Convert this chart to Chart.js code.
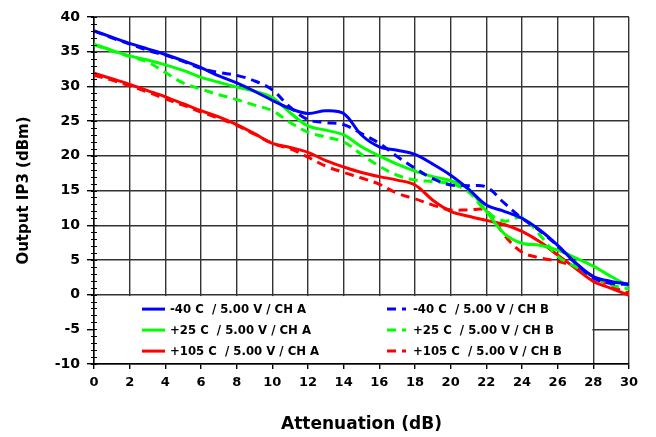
<!DOCTYPE html>
<html>
<head>
<meta charset="utf-8">
<script src="https://cdn.jsdelivr.net/npm/chart.js@4.4.1/dist/chart.umd.min.js"></script>
<style>
  html, body { margin: 0; padding: 0; background: #fff; }
  #chart_canvas { display: block; }
</style>
</head>
<body>
<canvas id="chart_canvas" width="656" height="437"></canvas>
<script>
// attenuation steps (dB) and output IP3 (dBm)
const atten = [0, 1, 2, 3, 4, 5, 6, 7, 8, 9, 10, 11, 12, 13, 14, 15, 16, 17, 18, 19, 20, 21, 22, 23, 24, 25, 26, 27, 28, 29, 30];

const m40_chA = [38.0, 37.1, 36.2, 35.4, 34.6, 33.7, 32.7, 31.5, 30.5, 29.3, 28.0, 26.8, 26.1, 26.5, 26.1, 23.0, 21.3, 20.8, 20.2, 18.8, 17.2, 15.2, 12.9, 12.0, 11.0, 9.3, 7.1, 4.6, 2.6, 1.9, 1.5];
const m40_chB = [38.0, 37.0, 36.1, 35.2, 34.5, 33.6, 32.6, 32.0, 31.6, 30.8, 29.5, 27.0, 25.2, 24.8, 24.5, 23.2, 21.8, 19.9, 18.2, 16.7, 15.8, 15.7, 15.5, 13.2, 11.0, 9.2, 7.0, 4.5, 2.4, 1.6, 1.5];
const p25_chA = [36.1, 35.2, 34.4, 33.8, 33.1, 32.3, 31.3, 30.6, 29.9, 29.3, 28.4, 26.2, 24.3, 23.7, 23.0, 21.3, 20.0, 18.8, 17.8, 17.0, 16.4, 15.2, 12.0, 8.8, 7.4, 7.1, 6.4, 5.3, 4.1, 2.6, 1.2];
const p25_chB = [36.0, 35.1, 34.3, 33.5, 32.0, 30.5, 29.6, 28.8, 28.1, 27.3, 26.5, 24.8, 23.4, 22.7, 22.0, 20.2, 18.5, 17.2, 16.5, 16.3, 16.0, 14.8, 12.0, 10.6, 11.1, 8.6, 5.5, 4.0, 2.6, 1.4, 0.8];
const p105_chA = [31.9, 31.1, 30.3, 29.4, 28.5, 27.5, 26.5, 25.6, 24.5, 23.2, 21.8, 21.2, 20.5, 19.3, 18.4, 17.6, 17.0, 16.5, 15.8, 13.6, 12.0, 11.3, 10.7, 10.1, 9.1, 7.6, 5.7, 3.8, 1.9, 0.9, -0.1];
const p105_chB = [31.6, 30.9, 30.1, 29.2, 28.2, 27.3, 26.3, 25.4, 24.4, 23.1, 21.8, 21.0, 19.8, 18.5, 17.6, 16.8, 15.9, 14.6, 13.8, 12.9, 12.2, 12.2, 12.1, 8.6, 6.1, 5.3, 4.8, 4.0, 2.6, 1.2, 0.2];

const seriesLabels = [
  '-40 C  / 5.00 V / CH A', '-40 C  / 5.00 V / CH B',
  '+25 C  / 5.00 V / CH A', '+25 C  / 5.00 V / CH B',
  '+105 C  / 5.00 V / CH A', '+105 C  / 5.00 V / CH B'
];
const seriesData = [m40_chA, m40_chB, p25_chA, p25_chB, p105_chA, p105_chB];
const seriesColors = ['#0000ff', '#0000ff', '#00ff00', '#00ff00', '#ff0000', '#ff0000'];
const seriesDashed = [false, true, false, true, false, true];

const FONT = 'DejaVu Sans';
const DASH = [9, 6];

function pts(vals) {
  return vals.map((v, i) => ({ x: atten[i], y: v }));
}

// minor ticks on the left axis, every 1 dB
const minorTicks = {
  id: 'minorTicks',
  afterDraw(chart) {
    const c = chart.ctx;
    const ys = chart.scales.y;
    const x0 = chart.chartArea.left;
    c.save();
    c.strokeStyle = '#000';
    c.lineWidth = 1;
    for (let v = ys.min; v <= ys.max; v++) {
      const py = Math.round(ys.getPixelForValue(v)) + 0.5;
      c.beginPath();
      c.moveTo(x0 - 3, py);
      c.lineTo(x0 + 3, py);
      c.stroke();
    }
    c.restore();
  }
};

// two-column legend sitting in the lower part of the plot
const boxLegend = {
  id: 'boxLegend',
  afterDatasetsDraw(chart) {
    const c = chart.ctx;
    const area = chart.chartArea;
    const xs = chart.scales.x;
    const ys = chart.scales.y;
    const top = ys.getPixelForValue(0) + 1.5;
    const right = xs.getPixelForValue(28) - 1;
    c.save();
    c.fillStyle = '#fff';
    c.fillRect(area.left + 1, top, right - area.left - 1, area.bottom - top - 1);
    c.font = 'bold 11.7px "' + FONT + '"';
    c.textBaseline = 'middle';
    c.fillStyle = '#000';
    chart.data.datasets.forEach((ds, i) => {
      const col = i % 2;
      const row = Math.floor(i / 2);
      const sx = area.left + (col === 0 ? 48 : 293);
      const tx = area.left + (col === 0 ? 76 : 319);
      const ty = top + 13 + row * 21;
      c.strokeStyle = ds.borderColor;
      c.lineWidth = 3;
      c.setLineDash(ds.borderDash || []);
      c.beginPath();
      c.moveTo(sx, ty);
      c.lineTo(sx + (col === 0 ? 23 : 19), ty);
      c.stroke();
      c.setLineDash([]);
      c.fillText(ds.label, tx, ty + 1);
    });
    c.restore();
  }
};

const ctx = document.getElementById('chart_canvas');

const ip3_chart = new Chart(ctx, { // eslint-disable-line no-unused-vars
  type: 'line',
  data: {
    datasets: seriesData.map((vals, i) => ({
      label: seriesLabels[i],
      data: pts(vals),
      borderColor: seriesColors[i],
      backgroundColor: seriesColors[i],
      borderWidth: 3,
      borderDash: seriesDashed[i] ? DASH : [],
      pointRadius: 0,
      fill: false,
      tension: 0.35
    }))
  },
  options: {
    responsive: false,
    animation: false,
    layout: { padding: { top: 17, right: 27, left: 0, bottom: 0 } },
    plugins: {
      legend: { display: false },
      tooltip: { enabled: false }
    },
    scales: {
      x: {
        type: 'linear',
        min: 0,
        max: 30,
        ticks: {
          stepSize: 2,
          color: '#000',
          font: { family: FONT, weight: 'bold', size: 13 },
          padding: 6
        },
        grid: { color: '#333', lineWidth: 1.4, tickLength: 5, tickColor: '#000' },
        border: { color: '#000', width: 1.5 },
        title: {
          display: true,
          text: 'Attenuation (dB)',
          color: '#000',
          font: { family: FONT, weight: 'bold', size: 17 },
          padding: { top: 0, bottom: 2 }
        },
        afterFit(scale) { scale.height = 73; }
      },
      y: {
        min: -10,
        max: 40,
        ticks: {
          stepSize: 5,
          color: '#000',
          font: { family: FONT, weight: 'bold', size: 14 },
          padding: 7
        },
        grid: { color: '#333', lineWidth: 1.4, tickLength: 7, tickColor: '#000' },
        border: { color: '#000', width: 1.5 },
        title: {
          display: true,
          text: 'Output IP3 (dBm)',
          color: '#000',
          font: { family: FONT, weight: 'bold', size: 15 },
          padding: { top: 15, bottom: 0 }
        },
        afterFit(scale) { scale.width = 94; }
      }
    }
  },
  plugins: [minorTicks, boxLegend]
});
</script>
</body>
</html>
